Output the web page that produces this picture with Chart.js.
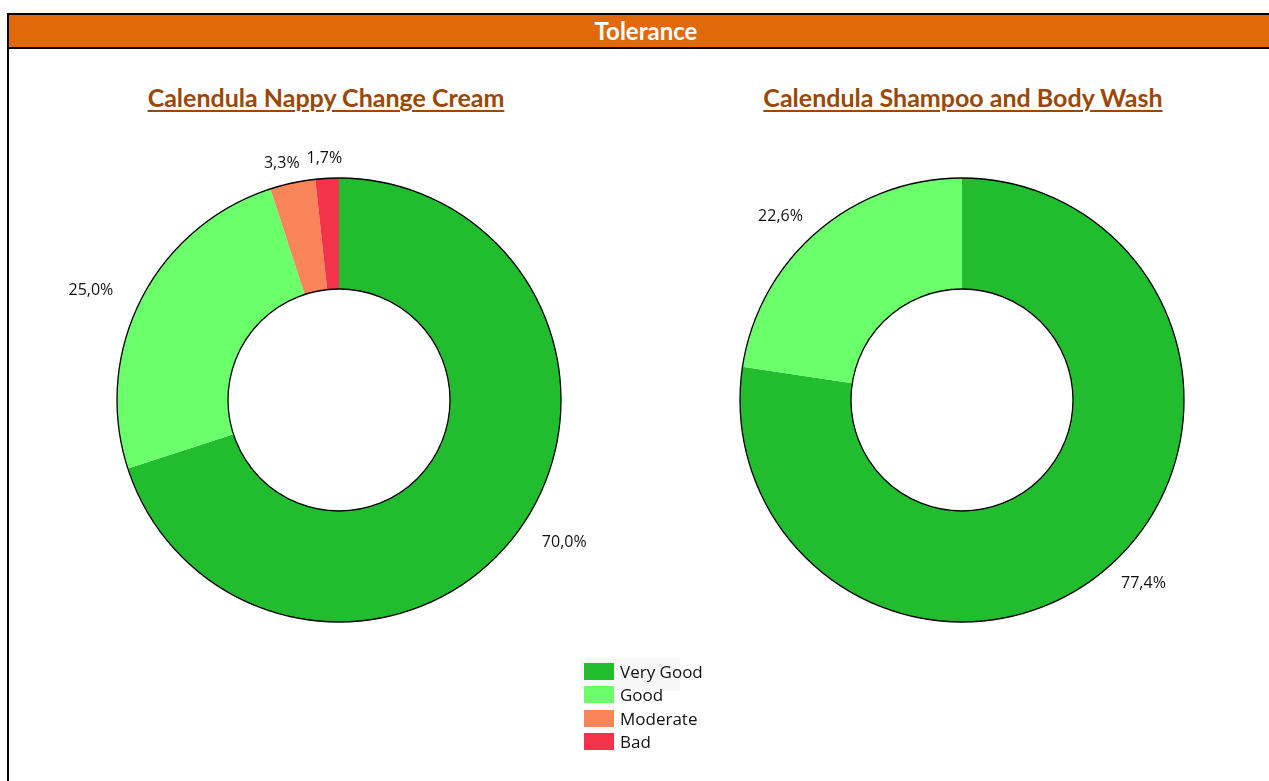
<!DOCTYPE html>
<html>
<head>
<meta charset="utf-8">
<script src="https://cdn.jsdelivr.net/npm/chart.js@4.4.0/dist/chart.umd.min.js"></script>
<style>
  html, body { margin: 0; padding: 0; background: #fff; overflow: hidden; }
  body { width: 1269px; height: 781px; position: relative; font-family: 'Open Sans', sans-serif; }
  #frame {
    position: absolute; left: 7px; top: 13px; width: 1400px; height: 900px;
    border-left: 2px solid #000; border-top: 2px solid #000;
  }
  #header {
    height: 32px; background: #E1690A; border-bottom: 2px solid #000;
    color: #fff; font-family: Lato, sans-serif; font-weight: bold; font-size: 24px;
    line-height: 32px;
  }
  #header span { position: absolute; left: 0; width: 1274px; text-align: center; }
  .title {
    position: absolute; width: 560px; text-align: center; white-space: nowrap;
    font-family: Lato, sans-serif; font-weight: bold; font-size: 25px;
    color: #9C4805; text-decoration: underline; text-underline-offset: 3px;
    text-decoration-thickness: 2px;
  }
  canvas { position: absolute; }
  #hl { position: absolute; left: 580px; top: 658px; width: 100px; height: 33px; background: #f7f7f7; }
  #legend { position: absolute; left: 584px; top: 660px; font-family: 'Open Sans', sans-serif; font-size: 17px; color: #111; }
  .item { height: 23.3px; display: flex; align-items: center; white-space: nowrap; }
  .box { width: 30px; height: 17px; margin-right: 6px; flex-shrink: 0; }
</style>
</head>
<body>
<div id="frame"><div id="header"><span>Tolerance</span></div></div>
<div class="title" style="left:46px; top:82px;">Calendula Nappy Change Cream</div>
<div class="title" style="left:683px; top:82px;">Calendula Shampoo and Body Wash</div>
<canvas id="cream" width="640" height="560" style="left:19px; top:120px;"></canvas>
<canvas id="shampoo" width="640" height="560" style="left:642px; top:120px;"></canvas>
<div id="hl"></div>
<div id="legend"></div>
<script>
const categories = ['Very Good', 'Good', 'Moderate', 'Bad'];
const creamValues = [70.0, 25.0, 3.3, 1.7];
const shampooValues = [77.4, 22.6, 0, 0];
const sliceColors = ['#21BD2F', '#6BFF6B', '#F8845A', '#F2334A'];

// contour noir extérieur/intérieur + étiquettes en dehors de l'anneau
const ringPlugin = {
  id: 'ring',
  afterDatasetsDraw(chart) {
    const ctx = chart.ctx;
    const meta = chart.getDatasetMeta(0);
    const first = meta.data[0];
    if (!first) return;
    const { x, y, outerRadius, innerRadius } = first.getProps(['x', 'y', 'outerRadius', 'innerRadius'], true);
    ctx.save();
    ctx.strokeStyle = '#000';
    ctx.lineWidth = 1.3;
    ctx.beginPath(); ctx.arc(x, y, outerRadius, 0, Math.PI * 2); ctx.stroke();
    ctx.beginPath(); ctx.arc(x, y, innerRadius, 0, Math.PI * 2); ctx.stroke();

    ctx.font = '16px "Open Sans"';
    ctx.fillStyle = '#111';
    ctx.textAlign = 'center';
    ctx.textBaseline = 'middle';
    const values = chart.data.datasets[0].data;
    meta.data.forEach((arc, i) => {
      if (!values[i]) return;
      const p = arc.getProps(['startAngle', 'endAngle'], true);
      const mid = (p.startAngle + p.endAngle) / 2;
      const text = values[i].toFixed(1).replace('.', ',') + '%';
      const halfW = ctx.measureText(text).width / 2;
      const lx = x + Math.cos(mid) * (outerRadius + 34 + halfW);
      const ly = y + Math.sin(mid) * (outerRadius + 20);
      ctx.fillText(text, lx, ly);
    });
    ctx.restore();
  }
};

function makeChart(id, values) {
  return new Chart(document.getElementById(id), {
    type: 'doughnut',
    data: {
      labels: categories,
      datasets: [{
        data: values,
        backgroundColor: sliceColors,
        borderWidth: 0
      }]
    },
    options: {
      responsive: false,
      animation: false,
      cutout: '50%',
      layout: { padding: { left: 98, right: 98, top: 58, bottom: 58 } },
      plugins: { legend: { display: false }, tooltip: { enabled: false } }
    },
    plugins: [ringPlugin]
  });
}

makeChart('cream', creamValues);
makeChart('shampoo', shampooValues);

// légende commune
const legend = document.getElementById('legend');
categories.forEach((c, i) => {
  const row = document.createElement('div');
  row.className = 'item';
  row.innerHTML = '<div class="box" style="background:' + sliceColors[i] + '"></div><span>' + c + '</span>';
  legend.appendChild(row);
});
</script>
</body>
</html>
